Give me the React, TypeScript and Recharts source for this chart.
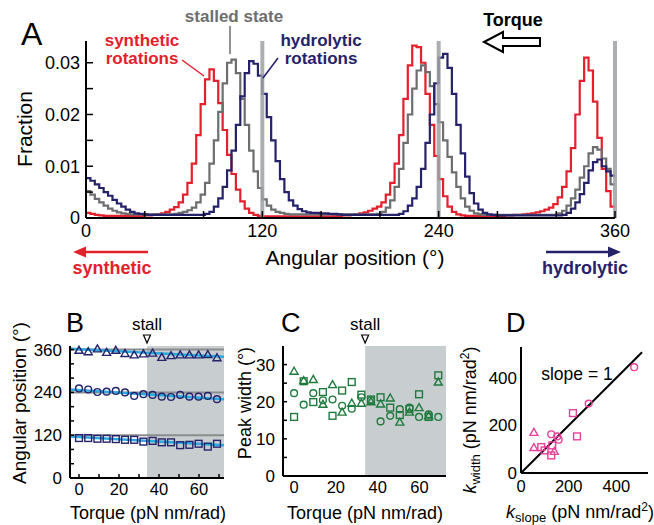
import { LineChart, ComposedChart, Line, Scatter, XAxis, YAxis, ReferenceLine, ReferenceArea, ReferenceDot } from 'recharts';

const FONT = '"Liberation Sans", Arial, Helvetica, sans-serif';
const RED = '#e3202c';
const GRAY = '#6d6e70';
const NAVY = '#25226a';
const CYAN = '#29a9e0';
const GREEN = '#1f7a3e';
const MAGENTA = '#e8419a';
const SHADE = '#c8cdd0';

// ---- panel A: angular histograms (3 deg bins, left edges 0..357) ----
const binWidth = 3;
const synthetic = [
  0.0010, 0.0008, 0.0006, 0.0005, 0.0004, 0.0004, 0.0004, 0.0004, 0.0004, 0.0004,
  0.0004, 0.0004, 0.0004, 0.0005, 0.0005, 0.0006, 0.0007, 0.0009, 0.0012, 0.0016,
  0.0021, 0.0030, 0.0045, 0.0068, 0.0105, 0.0160, 0.0220, 0.0268, 0.0287, 0.0265,
  0.0222, 0.0170, 0.0122, 0.0085, 0.0055, 0.0032, 0.0018, 0.0010, 0.0006, 0.0004,
  0.0003, 0.0003, 0.0003, 0.0003, 0.0003, 0.0003, 0.0003, 0.0003, 0.0003, 0.0003,
  0.0003, 0.0003, 0.0003, 0.0003, 0.0003, 0.0003, 0.0004, 0.0004, 0.0005, 0.0005,
  0.0006, 0.0007, 0.0009, 0.0011, 0.0014, 0.0018, 0.0022, 0.0030, 0.0045, 0.0068,
  0.0105, 0.0160, 0.0230, 0.0295, 0.0333, 0.0330, 0.0300, 0.0240, 0.0180, 0.0120,
  0.0075, 0.0042, 0.0022, 0.0012, 0.0007, 0.0005, 0.0004, 0.0004, 0.0004, 0.0004,
  0.0004, 0.0004, 0.0004, 0.0004, 0.0004, 0.0005, 0.0005, 0.0006, 0.0006, 0.0007,
  0.0008, 0.0009, 0.0011, 0.0013, 0.0016, 0.0020, 0.0027, 0.0040, 0.0060, 0.0090,
  0.0135, 0.0200, 0.0265, 0.0310, 0.0285, 0.0225, 0.0155, 0.0095, 0.0052, 0.0022,
];
const stalled = [
  0.0052, 0.0045, 0.0037, 0.0030, 0.0024, 0.0018, 0.0014, 0.0011, 0.0009, 0.0008,
  0.0007, 0.0007, 0.0007, 0.0007, 0.0007, 0.0007, 0.0007, 0.0007, 0.0007, 0.0007,
  0.0008, 0.0010, 0.0012, 0.0015, 0.0020, 0.0030, 0.0045, 0.0068, 0.0105, 0.0150,
  0.0205, 0.0260, 0.0300, 0.0306, 0.0280, 0.0230, 0.0180, 0.0130, 0.0090, 0.0058,
  0.0036, 0.0024, 0.0016, 0.0012, 0.0010, 0.0008, 0.0007, 0.0007, 0.0007, 0.0007,
  0.0007, 0.0007, 0.0007, 0.0007, 0.0007, 0.0007, 0.0007, 0.0007, 0.0007, 0.0007,
  0.0007, 0.0007, 0.0007, 0.0007, 0.0007, 0.0007, 0.0008, 0.0012, 0.0020, 0.0034,
  0.0060, 0.0095, 0.0145, 0.0200, 0.0250, 0.0285, 0.0295, 0.0282, 0.0255, 0.0220,
  0.0185, 0.0150, 0.0118, 0.0088, 0.0060, 0.0038, 0.0022, 0.0014, 0.0009, 0.0007,
  0.0006, 0.0006, 0.0006, 0.0006, 0.0006, 0.0006, 0.0006, 0.0006, 0.0006, 0.0006,
  0.0006, 0.0006, 0.0006, 0.0006, 0.0006, 0.0006, 0.0006, 0.0009, 0.0014, 0.0024,
  0.0038, 0.0055, 0.0078, 0.0100, 0.0125, 0.0137, 0.0132, 0.0115, 0.0095, 0.0065,
];
const hydrolytic = [
  0.0077, 0.0072, 0.0065, 0.0058, 0.0050, 0.0043, 0.0035, 0.0028, 0.0022, 0.0016,
  0.0012, 0.0009, 0.0008, 0.0007, 0.0006, 0.0006, 0.0006, 0.0006, 0.0006, 0.0006,
  0.0006, 0.0006, 0.0006, 0.0006, 0.0006, 0.0006, 0.0006, 0.0008, 0.0012, 0.0022,
  0.0038, 0.0060, 0.0092, 0.0130, 0.0180, 0.0235, 0.0280, 0.0303, 0.0298, 0.0275,
  0.0240, 0.0195, 0.0150, 0.0110, 0.0075, 0.0050, 0.0034, 0.0024, 0.0017, 0.0013,
  0.0011, 0.0010, 0.0010, 0.0009, 0.0009, 0.0008, 0.0008, 0.0007, 0.0006, 0.0006,
  0.0006, 0.0006, 0.0006, 0.0006, 0.0006, 0.0006, 0.0006, 0.0006, 0.0006, 0.0006,
  0.0006, 0.0008, 0.0013, 0.0024, 0.0038, 0.0060, 0.0095, 0.0145, 0.0200, 0.0260,
  0.0310, 0.0317, 0.0290, 0.0240, 0.0180, 0.0125, 0.0080, 0.0048, 0.0028, 0.0016,
  0.0010, 0.0007, 0.0006, 0.0005, 0.0005, 0.0005, 0.0005, 0.0005, 0.0005, 0.0005,
  0.0005, 0.0005, 0.0005, 0.0005, 0.0005, 0.0005, 0.0005, 0.0005, 0.0006, 0.0010,
  0.0018, 0.0030, 0.0046, 0.0068, 0.0092, 0.0108, 0.0113, 0.0100, 0.0090, 0.0082,
];
const stallLines = [120, 240, 360];

// ---- panels B, C: vs torque ----
const torque = [0, 4.6, 9.2, 13.8, 18.4, 23, 27.6, 32.2, 36.8, 41.4, 46, 50.6, 55.2, 59.8, 64.4, 69];
const stallTorque = 34;
const posTri = [358, 354, 362, 352, 358, 349, 345, 348, 350, 338, 343, 345, 345, 345, 346, 337];
const posCirc = [251, 248, 241, 242, 244, 240, 230, 235, 233, 228, 227, 233, 228, 228, 230, 221];
const posSq = [112, 112, 110, 110, 109, 107, 107, 102, 104, 100, 100, 92, 93, 96, 88, 96];
const fitX = [-4.5, 72.5];
const fitTri = [362, 340];
const fitCirc = [248, 221];
const fitSq = [116, 92];

const widthTri = [28.2, 25.7, 26.0, 19.3, 24.6, 17.2, 19.6, 19.6, 20.0, 19.4, 21.0, 14.5, 17.2, 18.4, 16.2, 25.3];
const widthCirc = [22.3, 19.2, 22.3, 20.4, 20.6, 18.9, 18.1, 21.2, 20.4, 14.7, 16.2, 18.0, 18.4, 15.9, 16.6, 15.9];
const widthSq = [15.9, 25.5, 19.9, 22.6, 16.2, 23.0, 25.3, 21.9, 20.6, 21.2, 18.4, 16.4, 18.0, 22.0, 15.9, 27.1];

// ---- panel D: k_width vs k_slope ----
const kCircX = [475, 284, 127, 152, 158];
const kCircY = [445, 292, 163, 154, 140];
const kSqX = [218, 235, 85, 99, 131, 127];
const kSqY = [252, 154, 109, 95, 116, 74];
const kTriX = [54, 54, 140];
const kTriY = [171, 107, 91];
const unityLine = [0, 508];

const histRows = synthetic.map((v, i) => ({ a: i * binWidth, syn: v, sta: stalled[i], hyd: hydrolytic[i] }));
histRows.push({ a: 360, syn: synthetic[119], sta: stalled[119], hyd: hydrolytic[119] });

const pts = (xs: number[], ys: number[]) => xs.map((x, i) => ({ x, y: ys[i] }));

function xTick(labels: Record<string, string>, len: number, fs: number, off: number) {
  return (p: any) => {
    const { x, y, payload } = p;
    const lab = labels[String(payload.value)];
    return (
      <g>
        {len > 0 && <line x1={x} y1={y} x2={x} y2={y - len} stroke="#000" strokeWidth={1.5} />}
        {lab !== undefined && (
          <text x={x} y={y + off} textAnchor="middle" fontSize={fs} fontFamily={FONT} fill="#000">{lab}</text>
        )}
      </g>
    );
  };
}

function yTick(labels: Record<string, string>, len: number, fs: number, gap: number) {
  return (p: any) => {
    const { x, y, payload } = p;
    const lab = labels[String(payload.value)];
    return (
      <g>
        {len > 0 && <line x1={x} y1={y} x2={x + len} y2={y} stroke="#000" strokeWidth={1.5} />}
        {lab !== undefined && (
          <text x={x - gap} y={y + fs * 0.35} textAnchor="end" fontSize={fs} fontFamily={FONT} fill="#000">{lab}</text>
        )}
      </g>
    );
  };
}

const circ = (c: string) => (p: any) => <circle cx={p.cx} cy={p.cy} r={3.4} fill="none" stroke={c} strokeWidth={1.4} />;
const sq = (c: string) => (p: any) => <rect x={p.cx - 3.4} y={p.cy - 3.4} width={6.8} height={6.8} fill="none" stroke={c} strokeWidth={1.4} />;
const tri = (c: string) => (p: any) => (
  <polygon points={`${p.cx},${p.cy - 4} ${p.cx + 4},${p.cy + 3} ${p.cx - 4},${p.cy + 3}`} fill="none" stroke={c} strokeWidth={1.4} />
);
const stallMark = (p: any) => (
  <g>
    <polygon points={`${p.cx - 3.5},${p.cy - 11} ${p.cx + 3.5},${p.cy - 11} ${p.cx},${p.cy - 3}`} fill="#fff" stroke="#000" strokeWidth={1.2} />
    <text x={p.cx} y={p.cy - 16} textAnchor="middle" fontSize={17} fontFamily={FONT}>stall</text>
  </g>
);

const axisStyle = { stroke: '#000', strokeWidth: 2 };
const layer: any = { position: 'absolute', left: 0, top: 0 };
const W = 654;
const H = 525;

export default function App() {
  return (
    <div style={{ position: 'absolute', left: 0, top: 0, width: W, height: H, background: '#fff', fontFamily: FONT }}>
      {/* A */}
      <div style={layer}>
        <LineChart width={W} height={H} data={histRows} margin={{ left: 85, right: W - 615, top: 41, bottom: H - 219 }}>
          <XAxis dataKey="a" type="number" domain={[0, 360]} ticks={[0, 40, 80, 120, 160, 200, 240, 280, 320, 360]}
            interval={0} height={1} tickSize={0} tickMargin={0} axisLine={axisStyle}
            tick={xTick({ 0: '0', 120: '120', 240: '240', 360: '360' }, 7, 18, 19)} />
          <YAxis type="number" domain={[0, 0.0342]} ticks={[0, 0.005, 0.01, 0.015, 0.02, 0.025, 0.03]}
            interval={0} width={1} tickSize={0} tickMargin={0} axisLine={axisStyle}
            tick={yTick({ 0: '0', 0.01: '0.01', 0.02: '0.02', 0.03: '0.03' }, 7, 18, 6)} />
          <Line type="stepAfter" dataKey="syn" stroke={RED} strokeWidth={2.2} dot={false} isAnimationActive={false} />
          <Line type="stepAfter" dataKey="sta" stroke={GRAY} strokeWidth={2.2} dot={false} isAnimationActive={false} />
          <Line type="stepAfter" dataKey="hyd" stroke={NAVY} strokeWidth={2.2} dot={false} isAnimationActive={false} />
          {stallLines.map((v) => (
            <ReferenceLine key={v} x={v} stroke="#9da1a5" strokeWidth={4} strokeOpacity={0.85} />
          ))}
        </LineChart>
      </div>

      {/* B */}
      <div style={layer}>
        <ComposedChart width={W} height={H} margin={{ left: 69, right: W - 224, top: 346, bottom: H - 479 }}>
          <XAxis dataKey="x" type="number" domain={[-4.5, 72.5]} ticks={[0, 10, 20, 30, 40, 50, 60, 70]}
            interval={0} height={1} tickSize={0} tickMargin={0} axisLine={axisStyle}
            tick={xTick({ 0: '0', 20: '20', 40: '40', 60: '60' }, 4, 16.5, 17)} />
          <YAxis dataKey="y" type="number" domain={[0, 370]} ticks={[0, 40, 80, 120, 160, 200, 240, 280, 320, 360]}
            interval={0} width={1} tickSize={0} tickMargin={0} axisLine={axisStyle}
            tick={yTick({ 0: '0', 120: '120', 240: '240', 360: '360' }, 4, 17, 8)} />
          <ReferenceArea x1={stallTorque} x2={72.5} y1={0} y2={370} fill={SHADE} fillOpacity={1} stroke="none" />
          {stallLines.map((v) => (
            <ReferenceLine key={v} y={v} stroke="#8a8c8e" strokeWidth={2} />
          ))}
          <Line data={pts(fitX, fitTri)} dataKey="y" stroke={CYAN} strokeWidth={2.5} dot={false} isAnimationActive={false} />
          <Line data={pts(fitX, fitCirc)} dataKey="y" stroke={CYAN} strokeWidth={2.5} dot={false} isAnimationActive={false} />
          <Line data={pts(fitX, fitSq)} dataKey="y" stroke={CYAN} strokeWidth={2.5} dot={false} isAnimationActive={false} />
          <Scatter data={pts(torque, posTri)} dataKey="y" shape={tri(NAVY)} isAnimationActive={false} />
          <Scatter data={pts(torque, posCirc)} dataKey="y" shape={circ(NAVY)} isAnimationActive={false} />
          <Scatter data={pts(torque, posSq)} dataKey="y" shape={sq(NAVY)} isAnimationActive={false} />
          <ReferenceDot x={stallTorque} y={370} shape={stallMark} ifOverflow="visible" />
        </ComposedChart>
      </div>

      {/* C */}
      <div style={layer}>
        <ComposedChart width={W} height={H} margin={{ left: 282, right: W - 446, top: 346, bottom: H - 477 }}>
          <XAxis dataKey="x" type="number" domain={[-5.3, 72.7]} ticks={[0, 10, 20, 30, 40, 50, 60, 70]}
            interval={0} height={1} tickSize={0} tickMargin={0} axisLine={axisStyle}
            tick={xTick({ 0: '0', 20: '20', 40: '40', 60: '60' }, 0, 16.5, 17)} />
          <YAxis dataKey="y" type="number" domain={[0, 35]} ticks={[0, 5, 10, 15, 20, 25, 30]}
            interval={0} width={1} tickSize={0} tickMargin={0} axisLine={axisStyle}
            tick={yTick({ 0: '0', 10: '10', 20: '20', 30: '30' }, 4, 17, 8)} />
          <ReferenceArea x1={stallTorque} x2={72.7} y1={0} y2={35} fill={SHADE} fillOpacity={1} stroke="none" />
          <Scatter data={pts(torque, widthTri)} dataKey="y" shape={tri(GREEN)} isAnimationActive={false} />
          <Scatter data={pts(torque, widthCirc)} dataKey="y" shape={circ(GREEN)} isAnimationActive={false} />
          <Scatter data={pts(torque, widthSq)} dataKey="y" shape={sq(GREEN)} isAnimationActive={false} />
          <ReferenceDot x={stallTorque} y={35} shape={stallMark} ifOverflow="visible" />
        </ComposedChart>
      </div>

      {/* D */}
      <div style={layer}>
        <ComposedChart width={W} height={H} margin={{ left: 520, right: W - 648, top: 347, bottom: H - 474 }}>
          <XAxis dataKey="x" type="number" domain={[0, 533]} ticks={[0, 200, 400]}
            interval={0} height={1} tickSize={0} tickMargin={0} axisLine={axisStyle}
            tick={xTick({ 0: '0', 200: '200', 400: '400' }, 0, 16.5, 19)} />
          <YAxis dataKey="y" type="number" domain={[0, 530]} ticks={[0, 200, 400]}
            interval={0} width={1} tickSize={0} tickMargin={0} axisLine={axisStyle}
            tick={yTick({ 0: '0', 200: '200', 400: '400' }, 0, 17, 4)} />
          <Line data={pts(unityLine, unityLine)} dataKey="y" stroke="#000" strokeWidth={2} dot={false} isAnimationActive={false} />
          <Scatter data={pts(kCircX, kCircY)} dataKey="y" shape={circ(MAGENTA)} isAnimationActive={false} />
          <Scatter data={pts(kSqX, kSqY)} dataKey="y" shape={sq(MAGENTA)} isAnimationActive={false} />
          <Scatter data={pts(kTriX, kTriY)} dataKey="y" shape={tri(MAGENTA)} isAnimationActive={false} />
        </ComposedChart>
      </div>

      {/* labels and annotations */}
      <svg width={W} height={H} style={{ ...layer, pointerEvents: 'none' }} fontFamily={FONT}>
        <text x={21} y={45} fontSize={32}>A</text>
        <text transform="translate(32,129) rotate(-90)" textAnchor="middle" fontSize={21}>Fraction</text>
        <text x={355} y={265} textAnchor="middle" fontSize={21}>Angular position (°)</text>

        <g fontWeight="bold" fontSize={17}>
          <text x={142} y={46} textAnchor="middle" fill={RED}>synthetic</text>
          <text x={142} y={64} textAnchor="middle" fill={RED}>rotations</text>
          <text x={234} y={22} textAnchor="middle" fill={GRAY}>stalled state</text>
          <text x={321} y={46} textAnchor="middle" fill={NAVY}>hydrolytic</text>
          <text x={321} y={64} textAnchor="middle" fill={NAVY}>rotations</text>
        </g>
        <line x1={182} y1={60} x2={204} y2={76} stroke={RED} strokeWidth={1.5} />
        <line x1={230} y1={26} x2={230} y2={54} stroke={GRAY} strokeWidth={1.5} />
        <line x1={278} y1={58} x2={263} y2={78} stroke={NAVY} strokeWidth={1.5} />

        <text x={513} y={26} textAnchor="middle" fontSize={18} fontWeight="bold">Torque</text>
        <polygon points="484,42 503,32 503,38 540,38 540,46 503,46 503,52" fill="#fff" stroke="#000" strokeWidth={2} />

        <line x1={148} y1={252} x2={82} y2={252} stroke={RED} strokeWidth={2.5} />
        <polygon points="73,252 86,246.5 86,257.5" fill={RED} />
        <text x={112} y={274} textAnchor="middle" fontSize={18} fontWeight="bold" fill={RED}>synthetic</text>
        <line x1={546} y1={252} x2={612} y2={252} stroke={NAVY} strokeWidth={2.5} />
        <polygon points="621,252 608,246.5 608,257.5" fill={NAVY} />
        <text x={585} y={274} textAnchor="middle" fontSize={18} fontWeight="bold" fill={NAVY}>hydrolytic</text>

        <text x={66} y={332} fontSize={27}>B</text>
        <text transform="translate(26,403) rotate(-90)" textAnchor="middle" fontSize={19}>Angular position (°)</text>
        <text x={148} y={519} textAnchor="middle" fontSize={18}>Torque (pN nm/rad)</text>

        <text x={281} y={332} fontSize={27}>C</text>
        <text transform="translate(251,403) rotate(-90)" textAnchor="middle" fontSize={18}>Peak width (°)</text>
        <text x={365} y={519} textAnchor="middle" fontSize={18}>Torque (pN nm/rad)</text>

        <text x={506} y={332} fontSize={27}>D</text>
        <text x={577} y={380} textAnchor="middle" fontSize={17.5}>slope = 1</text>
        <text transform="translate(476,420) rotate(-90)" textAnchor="middle" fontSize={18}>
          <tspan fontStyle="italic">k</tspan>
          <tspan fontSize={13} dy={4}>width</tspan>
          <tspan dy={-4}> (pN nm/rad</tspan>
          <tspan fontSize={12} dy={-7}>2</tspan>
          <tspan dy={7}>)</tspan>
        </text>
        <text x={580} y={518} textAnchor="middle" fontSize={18}>
          <tspan fontStyle="italic">k</tspan>
          <tspan fontSize={13} dy={4}>slope</tspan>
          <tspan dy={-4}> (pN nm/rad</tspan>
          <tspan fontSize={12} dy={-7}>2</tspan>
          <tspan dy={7}>)</tspan>
        </text>
      </svg>
    </div>
  );
}
